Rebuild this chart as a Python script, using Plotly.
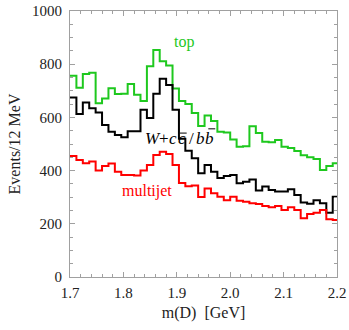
import plotly.graph_objects as go

bin_start = 1.7
bin_width = 0.012

top = [757, 711, 763, 768, 653, 671, 710, 688, 689, 726, 685, 662, 792, 853, 811, 795,
       709, 662, 650, 617, 568, 607, 586, 546, 543, 517, 490, 492, 567, 541, 508, 507,
       515, 490, 485, 474, 458, 450, 444, 402, 417, 428]
wcc = [675, 613, 656, 634, 618, 571, 546, 534, 525, 548, 548, 629, 598, 689, 745, 722,
       629, 520, 475, 446, 390, 421, 396, 372, 380, 383, 352, 358, 367, 325, 340, 327,
       321, 321, 330, 308, 280, 275, 289, 277, 242, 302]
multijet = [455, 440, 428, 434, 400, 417, 427, 396, 383, 383, 382, 400, 421, 459, 471, 462,
            421, 353, 341, 344, 301, 333, 315, 302, 289, 302, 287, 283, 277, 274, 267, 262,
            267, 252, 262, 252, 221, 237, 242, 252, 217, 214]

x_ticks = [1.7, 1.8, 1.9, 2.0, 2.1, 2.2]
x_tick_text = ["1.7", "1.8", "1.9", "2.0", "2.1", "2.2"]
y_ticks = [0, 200, 400, 600, 800, 1000]

GREEN = "#1ec81e"
font = "Times New Roman, Liberation Serif, serif"


def step(vals):
    xs = [bin_start + i * bin_width for i in range(len(vals) + 1)]
    ys = list(vals) + [vals[-1]]
    return xs, ys


fig = go.Figure()
for vals, col in [(top, GREEN), (wcc, "#000000"), (multijet, "#ff0000")]:
    xs, ys = step(vals)
    fig.add_trace(go.Scatter(x=xs, y=ys, mode="lines", line=dict(color=col, width=2, shape="hv"),
                             showlegend=False, hoverinfo="skip"))

fig.add_annotation(x=1.913, y=885, text="top", showarrow=False,
                   font=dict(family=font, size=16, color=GREEN))
fig.add_annotation(x=1.844, y=322, text="multijet", showarrow=False,
                   font=dict(family=font, size=16, color="#ff0000"))

# W + c cbar / b bbar label, glyph by glyph
label_y = 522
glyphs = [("<i>W</i>", 1.8555), ("+", 1.8755), ("<i>c</i>", 1.8935), ("<i>c</i>", 1.9088),
          ("/", 1.9275), ("<i>b</i>", 1.9445), ("<i>b</i>", 1.9618)]
for txt, gx in glyphs:
    fig.add_annotation(x=gx, y=label_y, text=txt, showarrow=False,
                       font=dict(family=font, size=17, color="#000000"))
# overbars for anti-quarks
fig.add_shape(type="line", x0=1.9060, x1=1.9185, y0=541, y1=541,
              line=dict(color="#000000", width=1))
fig.add_shape(type="line", x0=1.9590, x1=1.9720, y0=557, y1=557,
              line=dict(color="#000000", width=1))

axis_common = dict(showline=True, linecolor="#a0a0a0", linewidth=1, mirror="allticks",
                   ticks="inside", tickcolor="#a0a0a0", ticklen=5, tickwidth=1,
                   showgrid=False, zeroline=False, automargin=False, ticklabeloverflow="allow",
                   tickfont=dict(family=font, size=15, color="#222222"))

fig.update_xaxes(range=[1.7, 2.2], tickvals=x_ticks, ticktext=x_tick_text, ticklabelstandoff=2,
                 minor=dict(dtick=0.02, ticks="inside", ticklen=3, tickcolor="#a0a0a0", showgrid=False),
                 title=dict(text="m(D)  [GeV]", font=dict(family=font, size=16, color="#222222"), standoff=6),
                 **axis_common)
fig.update_yaxes(range=[0, 1000], tickvals=y_ticks, ticklabelstandoff=4,
                 minor=dict(dtick=50, ticks="inside", ticklen=3, tickcolor="#a0a0a0", showgrid=False),
                 title=dict(text="Events/12 MeV", font=dict(family=font, size=16, color="#222222"), standoff=7),
                 **axis_common)

fig.update_layout(width=349, height=330, margin=dict(l=70, r=12, t=11, b=53),
                  font=dict(family=font, color="#222222"),
                  paper_bgcolor="white", plot_bgcolor="white")

fig.write_html("out.html", config={"displayModeBar": False},
               post_script="document.body.style.margin='0px';")
